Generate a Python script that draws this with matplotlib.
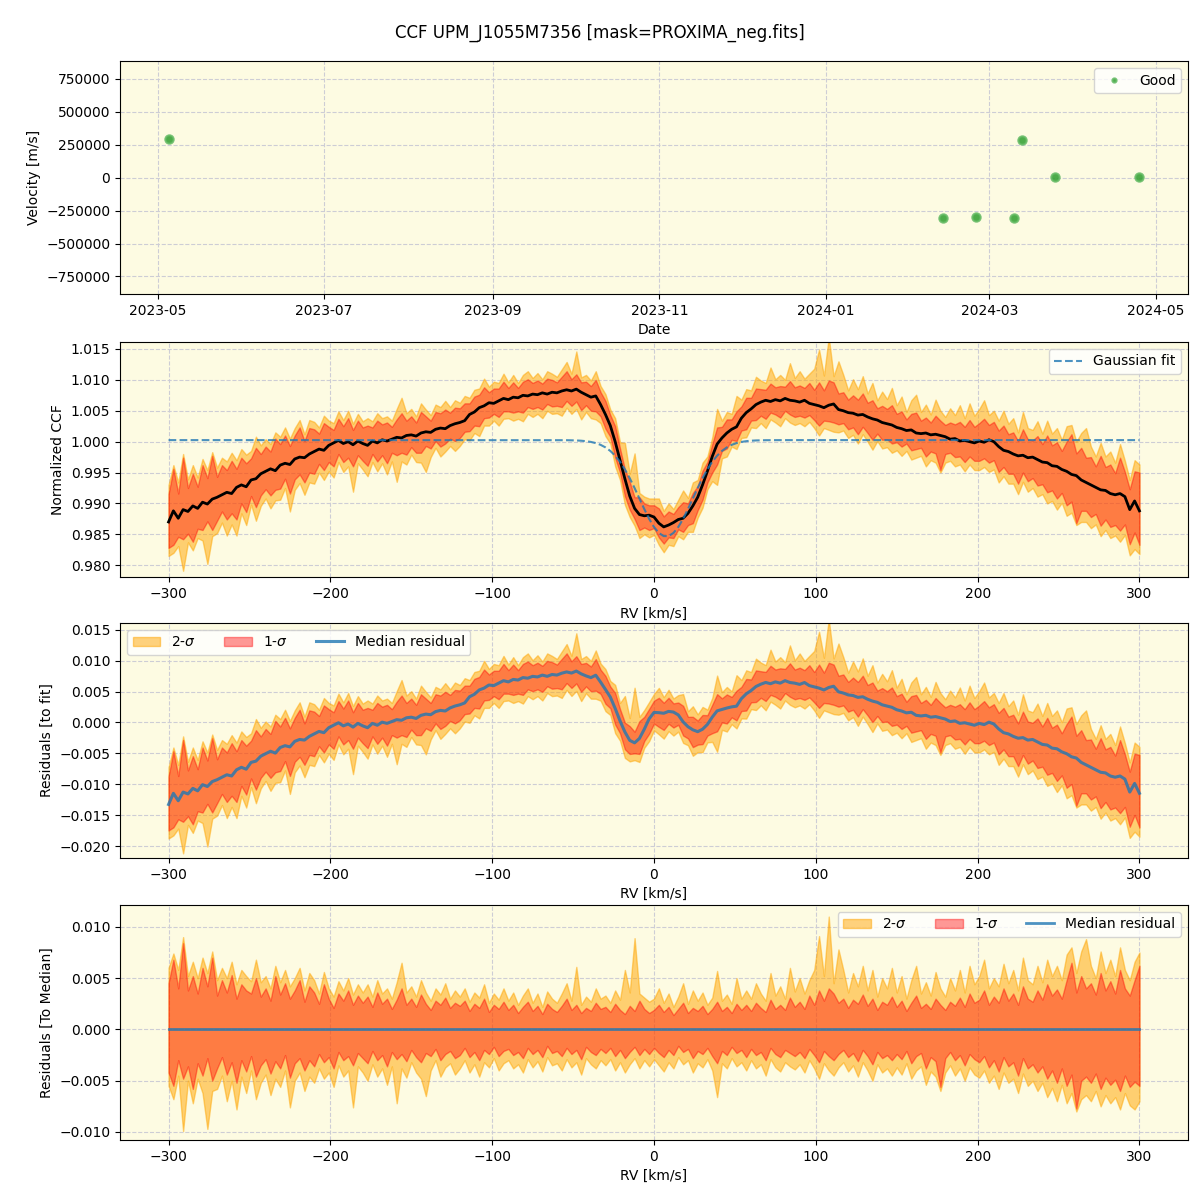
import numpy as np
import matplotlib
matplotlib.use('Agg')
import matplotlib.pyplot as plt
import matplotlib.dates as mdates
from matplotlib.ticker import MultipleLocator

# --- top panel: epochs and velocities ---
obs_dates = ['2023-05-05', '2024-02-13', '2024-02-25', '2024-03-10',
             '2024-03-13', '2024-03-25', '2024-04-25']
obs_vel = [295000, -305000, -298000, -305000, 286000, 5000, 5000]

# --- CCF grid (km/s) ---
rv_min, rv_max, rv_step = -300, 300, 3

# median CCF, in 1e-4 relative to 1.0  (one row = 30 km/s)
ccf_med = [
    -130, -112, -124, -110, -113, -104, -108, -98, -101, -93,
    -90, -86, -82, -84, -74, -70, -73, -62, -60, -52,
    -48, -44, -47, -38, -35, -37, -28, -25, -26, -20,
    -16, -12, -14, -6, -2, 2, -3, 0, -5, 1,
    -3, -6, 1, -2, 3, 1, 4, 7, 6, 10,
    11, 9, 14, 16, 15, 20, 22, 21, 26, 29,
    31, 34, 44, 48, 55, 58, 63, 62, 66, 70,
    68, 72, 71, 75, 74, 77, 76, 79, 77, 80,
    79, 82, 84, 82, 85, 80, 76, 72, 74, 60,
    44, 26, 0, -30, -60, -88, -108, -118, -120, -119,
    -122, -132, -138, -135, -131, -126, -124, -116, -104, -90,
    -70, -48, -24, -4, 6, 14, 20, 24, 38, 47,
    53, 60, 64, 67, 65, 68, 66, 70, 67, 66,
    64, 67, 62, 60, 58, 55, 59, 61, 52, 50,
    47, 46, 43, 44, 40, 37, 35, 31, 29, 27,
    23, 21, 18, 19, 14, 13, 14, 11, 12, 10,
    8, 4, 5, 1, 2, 0, -2, 1, -1, 3,
    0, -8, -14, -16, -20, -23, -22, -26, -25, -29,
    -33, -34, -39, -40, -45, -48, -53, -55, -62, -66,
    -70, -74, -78, -79, -84, -86, -84, -89, -110, -96,
    -112,
]

# spread of the individual CCFs around the median (1e-4, magnitudes)
sig1_hi = [
    45, 68, 40, 84, 38, 52, 35, 60, 42, 70,
    33, 48, 36, 53, 30, 44, 38, 35, 50, 32,
    40, 28, 52, 34, 45, 30, 38, 48, 27, 42,
    36, 25, 44, 30, 21, 35, 28, 38, 24, 33,
    26, 32, 22, 36, 25, 30, 20, 29, 40, 24,
    30, 22, 34, 25, 19, 28, 24, 31, 21, 26,
    23, 28, 18, 25, 21, 30, 17, 24, 20, 27,
    19, 24, 16, 22, 27, 18, 23, 15, 25, 20,
    17, 23, 30, 19, 24, 16, 21, 18, 26, 20,
    22, 17, 25, 19, 15, 23, 18, 28, 20, 16,
    19, 24, 17, 22, 14, 20, 26, 16, 21, 18,
    23, 15, 20, 27, 18, 22, 16, 25, 19, 24,
    18, 26, 21, 17, 29, 20, 24, 19, 31, 22,
    27, 20, 33, 24, 38, 28, 40, 35, 26, 30,
    21, 29, 25, 34, 23, 30, 19, 27, 24, 32,
    22, 28, 18, 26, 33, 21, 25, 20, 30, 24,
    19, 27, 23, 31, 22, 35, 26, 29, 38, 24,
    32, 26, 40, 28, 35, 24, 42, 30, 27, 38,
    29, 44, 33, 39, 30, 48, 65, 36, 52, 40,
    45, 34, 55, 38, 47, 35, 58, 40, 33, 48,
    62,
]
sig2_hi = [
    60, 74, 58, 90, 52, 66, 50, 70, 55, 76,
    48, 60, 50, 66, 44, 58, 52, 47, 68, 46,
    52, 40, 62, 46, 58, 42, 50, 60, 38, 55,
    48, 35, 56, 40, 32, 47, 38, 50, 34, 44,
    36, 44, 32, 48, 35, 40, 30, 46, 65, 36,
    42, 32, 48, 36, 28, 40, 34, 45, 30, 38,
    32, 40, 27, 36, 31, 44, 26, 35, 29, 40,
    28, 36, 24, 33, 40, 26, 35, 22, 37, 30,
    26, 35, 45, 28, 61, 24, 32, 27, 40, 30,
    33, 26, 38, 29, 58, 36, 89, 35, 31, 27,
    30, 40, 26, 35, 22, 32, 45, 25, 38, 28,
    36, 24, 31, 57, 28, 34, 25, 50, 30, 38,
    30, 45, 35, 28, 55, 33, 42, 30, 60, 37,
    50, 35, 48, 58, 91, 52, 110, 45, 78, 58,
    36, 55, 42, 62, 38, 58, 32, 50, 40, 60,
    36, 52, 30, 48, 62, 35, 46, 33, 56, 40,
    32, 50, 38, 58, 36, 62, 44, 52, 68, 40,
    50, 42, 64, 45, 58, 38, 70, 48, 44, 62,
    46, 68, 52, 62, 48, 73, 80, 55, 76, 88,
    62, 50, 76, 55, 68, 52, 80, 58, 48, 66,
    75,
]
sig1_lo = [
    42, 55, 30, 48, 36, 58, 33, 45, 28, 50,
    38, 27, 44, 32, 52, 30, 41, 26, 46, 35,
    29, 43, 31, 38, 25, 47, 33, 28, 40, 30,
    36, 24, 32, 27, 38, 22, 30, 26, 35, 23,
    28, 33, 21, 30, 25, 36, 22, 29, 24, 31,
    20, 27, 32, 23, 26, 19, 30, 24, 21, 28,
    25, 18, 27, 22, 30, 20, 24, 17, 26, 21,
    19, 25, 22, 28, 18, 24, 20, 27, 16, 23,
    21, 26, 18, 24, 20, 29, 17, 22, 25, 19,
    23, 18, 26, 20, 28, 22, 17, 25, 19, 24,
    18, 23, 27, 20, 25, 16, 22, 19, 28, 21,
    24, 18, 26, 33, 21, 25, 17, 23, 20, 27,
    19, 25, 22, 30, 18, 24, 27, 20, 23, 26,
    22, 28, 19, 25, 32, 21, 26, 30, 24, 20,
    27, 23, 31, 20, 26, 34, 22, 28, 25, 30,
    24, 29, 21, 33, 26, 23, 38, 27, 31, 56,
    28, 22, 30, 25, 35, 24, 29, 32, 26, 37,
    30, 41, 27, 36, 32, 45, 28, 38, 34, 42,
    36, 48, 40, 52, 38, 55, 44, 77, 50, 46,
    52, 43, 58, 47, 54, 49, 60, 45, 56, 51,
    55,
]
sig2_lo = [
    55, 68, 45, 99, 50, 72, 48, 62, 97, 60,
    58, 45, 70, 50, 78, 46, 62, 40, 68, 52,
    44, 64, 48, 56, 40, 76, 50, 42, 60, 46,
    52, 38, 48, 42, 56, 35, 46, 40, 76, 36,
    42, 50, 34, 46, 38, 54, 36, 72, 38, 47,
    32, 42, 48, 65, 40, 30, 46, 37, 33, 44,
    38, 30, 42, 34, 46, 32, 37, 28, 40, 33,
    30, 38, 34, 42, 29, 37, 31, 41, 27, 35,
    33, 40, 29, 37, 32, 44, 28, 34, 38, 30,
    35, 29, 40, 32, 42, 34, 28, 38, 30, 36,
    29, 35, 41, 32, 38, 27, 34, 30, 42, 33,
    37, 29, 40, 66, 33, 38, 28, 36, 32, 40,
    30, 38, 34, 45, 29, 37, 41, 32, 36, 39,
    34, 42, 30, 38, 48, 33, 40, 45, 37, 32,
    41, 35, 46, 32, 40, 50, 34, 42, 38, 45,
    37, 44, 33, 48, 40, 36, 54, 41, 46, 60,
    42, 35, 45, 38, 50, 37, 44, 47, 40, 52,
    45, 58, 42, 52, 48, 62, 43, 55, 50, 60,
    52, 66, 57, 70, 54, 72, 62, 80, 68, 64,
    70, 60, 75, 64, 72, 66, 78, 62, 74, 78,
    70,
]

# gaussian fit parameters
fit_base = 1.00025
fit_depth = 0.0156
fit_center = 7.5
fit_sigma = 16.5

# ---------------------------------------------------------------
rv = np.arange(rv_min, rv_max + 1, rv_step)
med = 1.0 + np.array(ccf_med) * 1e-4
s1h = np.array(sig1_hi) * 1e-4
s1l = np.array(sig1_lo) * 1e-4
s2h = np.array(sig2_hi) * 1e-4
s2l = np.array(sig2_lo) * 1e-4
fit = fit_base - fit_depth * np.exp(-(rv - fit_center)**2 / (2 * fit_sigma**2))

bg = '#fdfbe2'
gridkw = dict(ls='--', color='#cdcdd5', lw=0.8)

fig = plt.figure(figsize=(12, 12), dpi=100)
fig.suptitle('CCF UPM_J1055M7356 [mask=PROXIMA_neg.fits]', fontsize=12, y=0.980)

ax1 = fig.add_axes([0.1, 0.755, 0.89, 0.194])
ax2 = fig.add_axes([0.1, 0.519, 0.89, 0.196])
ax3 = fig.add_axes([0.1, 0.285, 0.89, 0.196])
ax4 = fig.add_axes([0.1, 0.050, 0.89, 0.196])
for ax in (ax1, ax2, ax3, ax4):
    ax.set_facecolor(bg)
    ax.grid(True, **gridkw)
    ax.set_axisbelow(True)

# panel 1
dates = np.array(obs_dates, dtype='datetime64[D]').astype('O')
ax1.plot(dates, obs_vel, 'o', color='#2e9e2e', alpha=0.85, ms=6,
         mec='#66bb66', mew=1.5, label='Good')
ax1.set_ylim(-883000, 883000)
ax1.yaxis.set_major_locator(MultipleLocator(250000))
ax1.xaxis.set_major_locator(mdates.MonthLocator(bymonth=[1, 3, 5, 7, 9, 11]))
ax1.xaxis.set_major_formatter(mdates.DateFormatter('%Y-%m'))
ax1.set_xlabel('Date')
ax1.set_ylabel('Velocity [m/s]')
ax1.legend(loc='upper right', markerscale=0.5)

# panel 2
ax2.fill_between(rv, med - s2l, med + s2h, color='orange', alpha=0.5)
ax2.fill_between(rv, med - s1l, med + s1h, color='red', alpha=0.4)
ax2.plot(rv, med, color='black', lw=2)
ax2.plot(rv, fit, '--', color='tab:blue', alpha=0.8, lw=1.5, label='Gaussian fit')
ax2.set_xlim(-330, 330)
ax2.set_ylim(0.97806, 1.01613)
ax2.yaxis.set_major_locator(MultipleLocator(0.005))
ax2.xaxis.set_major_locator(MultipleLocator(100))
ax2.set_xlabel('RV [km/s]')
ax2.set_ylabel('Normalized CCF')
ax2.legend(loc='upper right')

# panel 3
res = med - fit
ax3.fill_between(rv, res - s2l, res + s2h, color='orange', alpha=0.5, label='2-$\\sigma$')
ax3.fill_between(rv, res - s1l, res + s1h, color='red', alpha=0.4, label='1-$\\sigma$')
ax3.plot(rv, res, color='tab:blue', alpha=0.8, lw=2.2, label='Median residual')
ax3.set_xlim(-330, 330)
ax3.set_ylim(-0.0219, 0.0161)
ax3.yaxis.set_major_locator(MultipleLocator(0.005))
ax3.xaxis.set_major_locator(MultipleLocator(100))
ax3.set_xlabel('RV [km/s]')
ax3.set_ylabel('Residuals [to fit]')
ax3.legend(loc='upper left', ncol=3)

# panel 4
zero = med - med
ax4.fill_between(rv, zero - s2l, zero + s2h, color='orange', alpha=0.5, label='2-$\\sigma$')
ax4.fill_between(rv, zero - s1l, zero + s1h, color='red', alpha=0.4, label='1-$\\sigma$')
ax4.plot(rv, zero, color='tab:blue', alpha=0.8, lw=2, label='Median residual')
ax4.set_xlim(-330, 330)
ax4.set_ylim(-0.01078, 0.01215)
ax4.yaxis.set_major_locator(MultipleLocator(0.005))
ax4.xaxis.set_major_locator(MultipleLocator(100))
ax4.set_xlabel('RV [km/s]')
ax4.set_ylabel('Residuals [To Median]')
ax4.legend(loc='upper right', ncol=3)

fig.savefig('out.png', dpi=100)
